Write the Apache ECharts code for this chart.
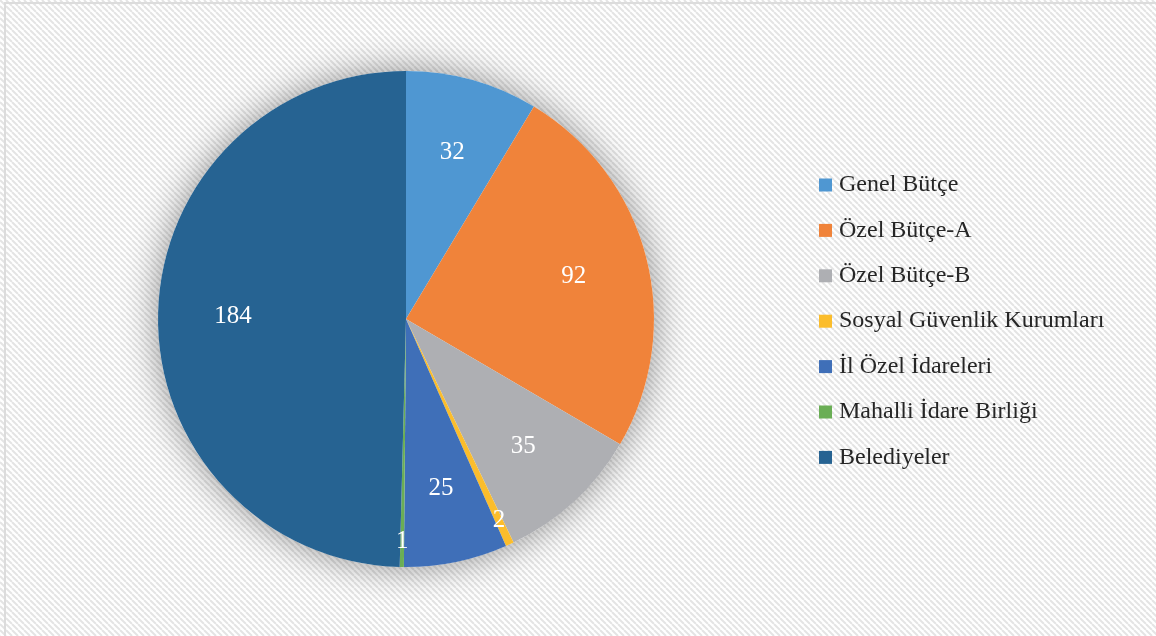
<!DOCTYPE html>
<html>
<head>
<meta charset="utf-8">
<script src="https://cdn.jsdelivr.net/npm/echarts@6/dist/echarts.min.js"></script>
<style>
  html, body { margin: 0; padding: 0; background: #fff; }
  #chart { width: 1156px; height: 636px; }
</style>
</head>
<body>
<div id="chart"></div>
<script>
var categories = ['Genel Bütçe', 'Özel Bütçe-A', 'Özel Bütçe-B', 'Sosyal Güvenlik Kurumları', 'İl Özel İdareleri', 'Mahalli İdare Birliği', 'Belediyeler'];
var values = [32, 92, 35, 2, 25, 1, 184];
var colors = ['#4f97d2', '#f0833a', '#aeafb3', '#fbbd2c', '#3f6fb8', '#6aae55', '#266392'];
// small slices get their label further out
var smallSlice = [false, false, false, true, false, true, false];

// diagonal hatch background
var tile = document.createElement('canvas');
tile.width = 6; tile.height = 6;
var tc = tile.getContext('2d');
tc.fillStyle = '#ffffff';
tc.fillRect(0, 0, 6, 6);
tc.strokeStyle = '#e4e4e4';
tc.lineWidth = 2;
for (var k = -1; k <= 1; k++) {
	tc.beginPath();
	tc.moveTo(k * 6, 0);
	tc.lineTo(k * 6 + 6, 6);
	tc.stroke();
}

var center = [406, 319];
var R = 248;
var font = '"Liberation Serif", "Times New Roman", serif';

var sliceData = categories.map(function (name, i) {
	return { name: name, value: values[i], itemStyle: { color: colors[i] } };
});

function labelData(wantSmall) {
	return categories.map(function (name, i) {
		return {
			name: name,
			value: values[i],
			label: { show: smallSlice[i] === wantSmall }
		};
	});
}

var chart = echarts.init(document.getElementById('chart'));
chart.setOption({
	backgroundColor: { image: tile, repeat: 'repeat' },
	animation: false,
	graphic: [{
		type: 'rect',
		shape: { x: 5, y: 3, width: 1200, height: 700 },
		style: { fill: 'none', stroke: '#dcdcdc', lineWidth: 2 },
		silent: true
	}],
	legend: {
		orient: 'vertical',
		left: 814,
		top: 168,
		itemWidth: 13,
		itemHeight: 13,
		itemGap: 21.4,
		icon: 'rect',
		data: categories,
		textStyle: { fontFamily: font, fontSize: 24, lineHeight: 24, color: '#262626', padding: [0, 0, 0, 2] }
	},
	series: [{
		// soft halo under the whole pie
		name: 'shadow',
		type: 'pie',
		center: center,
		radius: [0, R],
		silent: true,
		label: { show: false },
		labelLine: { show: false },
		itemStyle: {
			color: '#ffffff',
			borderWidth: 0,
			shadowBlur: 36,
			shadowColor: 'rgba(0,0,0,0.42)'
		},
		data: [{ name: 'shadow', value: 1 }]
	}, {
		name: 'pie',
		type: 'pie',
		center: center,
		radius: [0, R],
		startAngle: 90,
		clockwise: true,
		silent: true,
		label: { show: false },
		labelLine: { show: false },
		itemStyle: { borderWidth: 0 },
		data: sliceData
	}, {
		name: 'labels',
		type: 'pie',
		center: center,
		radius: [92, R],
		startAngle: 90,
		silent: true,
		itemStyle: { color: 'rgba(0,0,0,0)' },
		label: { position: 'inside', formatter: '{c}', color: '#fff', fontFamily: font, fontSize: 25 },
		labelLine: { show: false },
		data: labelData(false)
	}, {
		name: 'smallLabels',
		type: 'pie',
		center: center,
		radius: [190, R],
		startAngle: 90,
		silent: true,
		itemStyle: { color: 'rgba(0,0,0,0)' },
		label: { position: 'inside', formatter: '{c}', color: '#fff', fontFamily: font, fontSize: 25 },
		labelLine: { show: false },
		data: labelData(true)
	}]
});
</script>
</body>
</html>
